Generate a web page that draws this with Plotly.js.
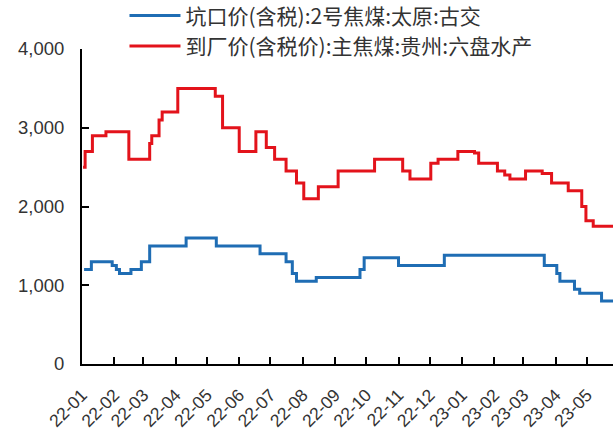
<!DOCTYPE html>
<html>
<head>
<meta charset="utf-8">
<script src="https://cdn.plot.ly/plotly-3.0.1.min.js"></script>
<style>html,body{margin:0;padding:0;background:#fff;}#chart{width:616px;height:435px;}</style>
</head>
<body>
<div id="chart"></div>
<script>
// Series names (legend)
const seriesNames = ['坑口价(含税):2号焦煤:太原:古交', '到厂价(含税价):主焦煤:贵州:六盘水产'];

// 坑口价 (blue) – dates of price changes and the price from that date (元/吨)
const blueDates = ['2022-01-03','2022-01-10','2022-01-30','2022-02-03','2022-02-06','2022-02-17','2022-02-27','2022-03-07','2022-04-11','2022-05-10','2022-06-21','2022-07-16','2022-07-22','2022-07-26','2022-08-14','2022-09-25','2022-09-29','2022-11-01','2022-12-15','2023-03-21','2023-04-02','2023-04-05','2023-04-19','2023-04-24','2023-05-15','2023-05-26'];
const bluePrices = [1200,1300,1250,1200,1150,1200,1300,1500,1600,1500,1400,1300,1150,1050,1100,1200,1350,1250,1380,1250,1150,1050,950,900,800,800];

// 到厂价 (red) – dates of price changes and the price from that date (元/吨)
const redDates = ['2022-01-02','2022-01-04','2022-01-11','2022-01-24','2022-02-15','2022-03-07','2022-03-09','2022-03-16','2022-03-19','2022-04-03','2022-05-09','2022-05-16','2022-06-01','2022-06-17','2022-06-27','2022-07-05','2022-07-16','2022-07-26','2022-08-02','2022-08-16','2022-09-04','2022-10-09','2022-11-05','2022-11-12','2022-12-02','2022-12-09','2022-12-28','2023-01-13','2023-01-17','2023-02-04','2023-02-11','2023-02-16','2023-03-03','2023-03-19','2023-03-28','2023-04-13','2023-04-26','2023-04-30','2023-05-07','2023-05-26'];
const redPrices = [2500,2700,2900,2950,2600,2800,2900,3100,3200,3500,3400,3000,2700,2950,2750,2600,2450,2300,2100,2250,2450,2600,2450,2350,2550,2600,2700,2680,2550,2450,2400,2350,2450,2420,2300,2200,2000,1820,1750,1750];

const xRange = ['2022-01-01','2023-05-26'];
const yTicks = [0,1000,2000,3000,4000];

const traces = [
  {x: blueDates, y: bluePrices, name: seriesNames[0], type: 'scatter', mode: 'lines',
   line: {color: '#1f6db4', width: 3, shape: 'hv'}},
  {x: redDates, y: redPrices, name: seriesNames[1], type: 'scatter', mode: 'lines',
   line: {color: '#e3131b', width: 3, shape: 'hv'}}
];

const layout = {
  width: 616, height: 435,
  margin: {l: 82, r: 3, t: 49, b: 71, autoexpand: false},
  paper_bgcolor: '#fff', plot_bgcolor: '#fff',
  showlegend: true,
  legend: {x: 0.08, xanchor: 'left', y: 1.17, yanchor: 'top',
           font: {family: 'Noto Sans CJK SC, sans-serif', size: 21, color: '#333'},
           bgcolor: 'rgba(0,0,0,0)', itemwidth: 51},
  xaxis: {type: 'date', range: xRange, dtick: 'M1', tick0: '2022-01-01', tickformat: '%y-%m',
          tickangle: -45, showgrid: false, zeroline: false,
          showline: true, linecolor: '#000', linewidth: 2,
          ticks: 'inside', ticklen: 7, tickwidth: 2, tickcolor: '#000',
          tickfont: {family: 'Liberation Sans, Arial, sans-serif', size: 17.5, color: '#333'},
          ticklabelstandoff: 12},
  yaxis: {range: [0, 4000], tickvals: yTicks, tickformat: ',d', showgrid: false, zeroline: false,
          showline: true, linecolor: '#000', linewidth: 2,
          ticks: 'inside', ticklen: 7, tickwidth: 2, tickcolor: '#000',
          tickfont: {family: 'Liberation Sans, Arial, sans-serif', size: 18.5, color: '#333'},
          ticklabelstandoff: 12}
};

Plotly.newPlot('chart', traces, layout, {staticPlot: true, displayModeBar: false});
</script>
</body>
</html>
